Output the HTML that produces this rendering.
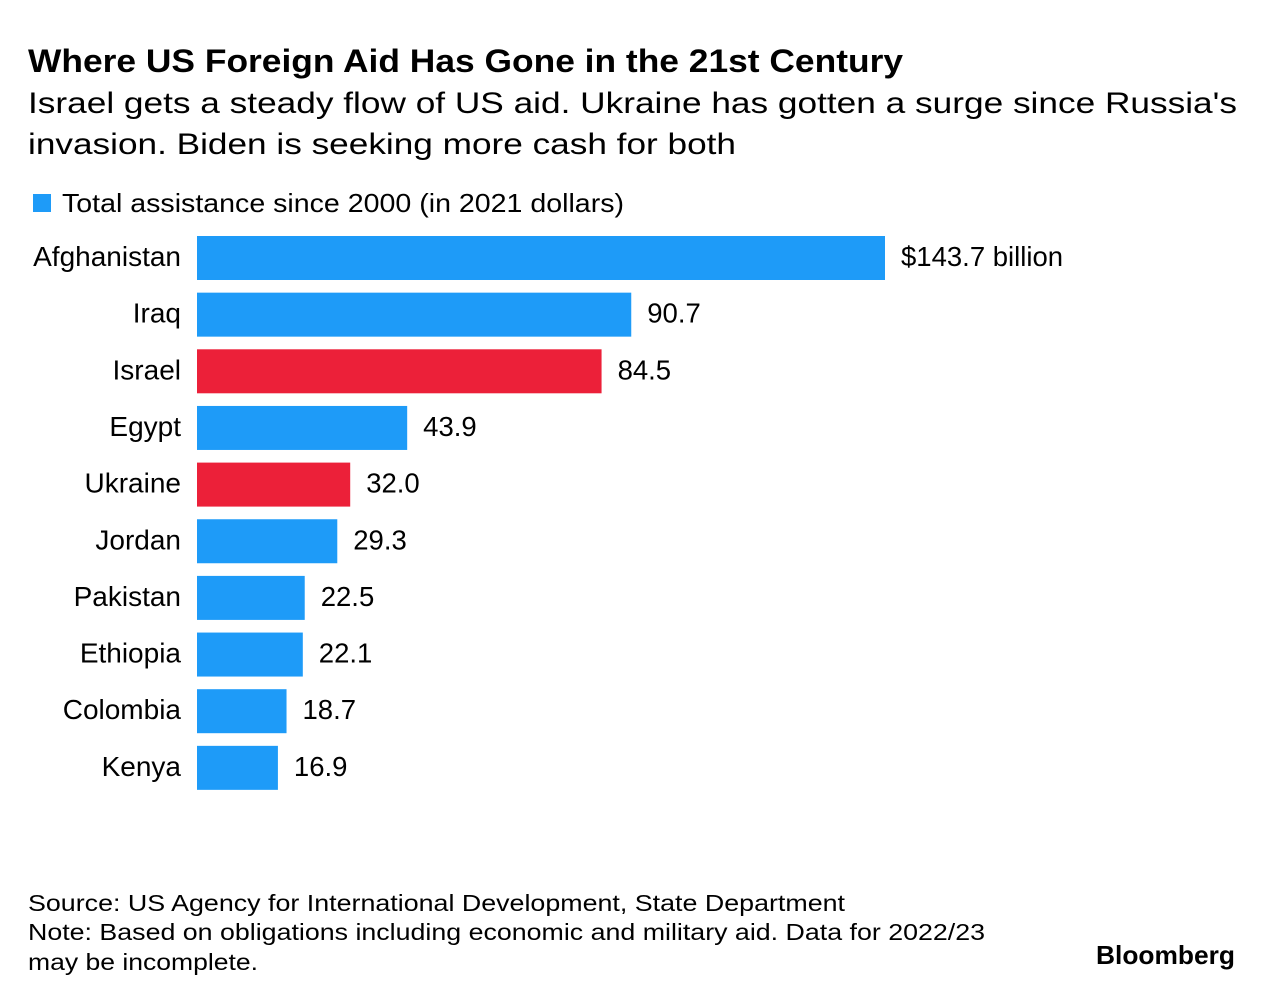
<!DOCTYPE html>
<html><head><meta charset="utf-8"><style>
body{margin:0;background:#fff;}
svg{display:block;font-family:"Liberation Sans",sans-serif;}
</style></head><body>
<svg id="chart" width="1273" height="1000" viewBox="0 0 1273 1000">
<text x="28" y="72" font-size="32" font-weight="bold" fill="#000" textLength="875" lengthAdjust="spacingAndGlyphs">Where US Foreign Aid Has Gone in the 21st Century</text>
<text x="28" y="113" font-size="30" fill="#000" textLength="1209" lengthAdjust="spacingAndGlyphs">Israel gets a steady flow of US aid. Ukraine has gotten a surge since Russia's</text>
<text x="28" y="154" font-size="30" fill="#000" textLength="708" lengthAdjust="spacingAndGlyphs">invasion. Biden is seeking more cash for both</text>
<rect x="33" y="194" width="18" height="18" fill="#1e9bf8"/>
<text x="62" y="212" font-size="26" fill="#000" textLength="562" lengthAdjust="spacingAndGlyphs">Total assistance since 2000 (in 2021 dollars)</text>
<g id="bars"></g>
<text x="28" y="911" font-size="23" fill="#000" textLength="817" lengthAdjust="spacingAndGlyphs">Source: US Agency for International Development, State Department</text>
<text x="28" y="940" font-size="23" fill="#000" textLength="957" lengthAdjust="spacingAndGlyphs">Note: Based on obligations including economic and military aid. Data for 2022/23</text>
<text x="28" y="970" font-size="23" fill="#000" textLength="230" lengthAdjust="spacingAndGlyphs">may be incomplete.</text>
<text x="1235" y="964" font-size="26" font-weight="bold" fill="#000" text-anchor="end" textLength="139" lengthAdjust="spacingAndGlyphs">Bloomberg</text>
</svg>
<script>
const categories=["Afghanistan","Iraq","Israel","Egypt","Ukraine","Jordan","Pakistan","Ethiopia","Colombia","Kenya"];
const values=[143.7,90.7,84.5,43.9,32.0,29.3,22.5,22.1,18.7,16.9];
const valueLabels=["$143.7 billion","90.7","84.5","43.9","32.0","29.3","22.5","22.1","18.7","16.9"];
const highlighted=["Israel","Ukraine"];
const NS="http://www.w3.org/2000/svg";
const x0=197, pxPerUnit=(885-197)/143.7;
const xScale=v=>x0+v*pxPerUnit;
const yTop=236, step=56.65, bh=44;
const yScale=i=>yTop+i*step;
const g=document.getElementById('bars');
categories.forEach((c,i)=>{
  const y=yScale(i);
  const r=document.createElementNS(NS,'rect');
  
  
  r.setAttribute('x',x0);r.setAttribute('y',y);
  r.setAttribute('width',xScale(values[i])-x0);r.setAttribute('height',bh);
  r.setAttribute('fill',highlighted.includes(c)?'#ec2039':'#1e9bf8');
  g.appendChild(r);
  const t=document.createElementNS(NS,'text');
  
  
  t.setAttribute('x',181);t.setAttribute('y',y+bh/2+8);
  t.setAttribute('font-size','28');t.setAttribute('text-anchor','end');
  t.textContent=c;g.appendChild(t);
  const v=document.createElementNS(NS,'text');
  
  
  v.setAttribute('x',xScale(values[i])+16);v.setAttribute('y',y+bh/2+8);
  v.setAttribute('font-size','27.5');
  v.textContent=valueLabels[i];g.appendChild(v);
});
</script>
</body></html>
